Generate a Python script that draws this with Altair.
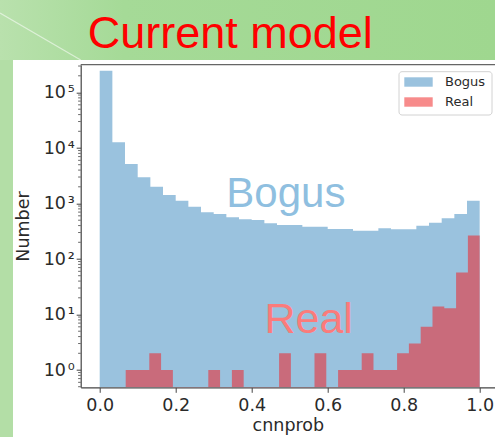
import altair as alt
import numpy as np
import pandas as pd

# ---- histogram data: 30 bins per class, counts per bin ----
bogus_counts = [247000, 12700, 5150, 2970, 2010, 1420, 1120, 875, 694, 650,
                565, 519, 505, 440, 410, 410, 382, 382, 347, 347,
                324, 324, 357, 343, 343, 398, 451, 541, 647, 1123]
real_counts = [1, 1, 2, 1, 0, 0, 0, 1, 0, 1,
               0, 0, 0, 2, 0, 0, 2, 0, 1, 1,
               2, 1, 1, 2, 3, 6, 14, 13, 57, 265]
bogus_range = (0.0, 1.0)
real_range = (0.0684, 1.0)

x_ticks = [0.0, 0.2, 0.4, 0.6, 0.8, 1.0]
y_major = [1, 10, 100, 1000, 10000, 100000]
y_domain = [0.488, 3.17e5]
x_domain = [-0.05, 1.0403]

class_names = ["Bogus", "Real"]
annot_x = [0.49, 0.55]
annot_y = [875, 4.6]

# ---- layout / style ----
W, H = 414.3, 322.6
PAD = {"left": 80.7, "top": 64.7, "right": 0, "bottom": 49.7}
BOGUS_FILL = "#9ac2de"
REAL_FILL = "#c96b7b"
REAL_SWATCH = "#f78b8b"
AXIS_COLOR = "#444444"
TEXT_COLOR = "#2a2a2a"
AX_FONT = "DejaVu Sans"
SANS = "Liberation Sans"
EMPTY = 0.1  # stands in for empty bins; lies below the log axis and is clipped


def step_frame(counts, lo, hi):
    # outline of a histogram: one point per left bin edge plus the final edge
    edges = np.linspace(lo, hi, len(counts) + 1)
    vals = [c if c > 0 else EMPTY for c in counts]
    return pd.DataFrame({"edge": edges, "count": vals + [vals[-1]]})


bogus_df = step_frame(bogus_counts, *bogus_range)
real_df = step_frame(real_counts, *real_range)

y_minor = [m * 10.0 ** k for k in range(-1, 6) for m in range(2, 10)
           if y_domain[0] <= m * 10.0 ** k <= y_domain[1]]

xscale = alt.Scale(domain=x_domain, nice=False, zero=False)
yscale = alt.Scale(type="log", domain=y_domain, nice=False)

# one axis definition per channel, shared by every layer that uses the scale
x_axis = alt.Axis(
    values=x_ticks, format=".1f", title="cnnprob", grid=False,
    labelFont=AX_FONT, labelFontSize=17.5, labelColor=TEXT_COLOR,
    titleFont=AX_FONT, titleFontSize=17.5, titleFontWeight="normal",
    titleColor=TEXT_COLOR, titlePadding=3, labelPadding=4,
    tickSize=5, tickColor=AXIS_COLOR, domainColor=AXIS_COLOR,
    domainWidth=1.2, tickWidth=1, labelFlush=False)
y_axis = alt.Axis(
    values=y_major, title="Number", grid=False,
    labelExpr="'10\u200a' + ['⁰','¹','²','³','⁴','⁵'][round(log(datum.value) / LN10)]",
    labelFont=AX_FONT, labelFontSize=17.5, labelColor=TEXT_COLOR,
    titleFont=AX_FONT, titleFontSize=17.5, titleFontWeight="normal",
    titleColor=TEXT_COLOR, titlePadding=11, labelPadding=2,
    tickSize=4.5, tickColor=AXIS_COLOR, domainColor=AXIS_COLOR,
    domainWidth=1.2, tickWidth=1, labelFlush=False)

one = pd.DataFrame({"k": [0]})
green = alt.Gradient(
    gradient="linear",
    stops=[alt.GradientStop(color="#b9e1ad", offset=0),
           alt.GradientStop(color="#a5da97", offset=0.25),
           alt.GradientStop(color="#9fd78f", offset=1)],
    x1=0, x2=1, y1=0, y2=0)

# green slide background: a band across the top and a strip down the left;
# the rest of the page stays white (the figure panel)
top_band = alt.Chart(one).mark_rect(color=green).encode(
    x=alt.value(-PAD["left"]), x2=alt.value(W),
    y=alt.value(-PAD["top"]), y2=alt.value(60 - PAD["top"]))
left_band = alt.Chart(one).mark_rect(color="#b3dea6").encode(
    x=alt.value(-PAD["left"]), x2=alt.value(13 - PAD["left"]),
    y=alt.value(60 - PAD["top"]), y2=alt.value(H + PAD["bottom"]))

diag = alt.Chart(one).mark_rule(color="white", opacity=0.55, strokeWidth=1.2).encode(
    x=alt.value(-PAD["left"]), y=alt.value(-51.7), x2=alt.value(0), y2=alt.value(-4.7))

title = alt.Chart(one).mark_text(
    text="Current model", font=SANS, fontSize=45, color="#ff0000",
    align="left", baseline="alphabetic"
).encode(x=alt.value(7), y=alt.value(-17))

bogus = alt.Chart(bogus_df).mark_area(
    color=BOGUS_FILL, interpolate="step-after", clip=True
).encode(
    x=alt.X("edge:Q", scale=xscale, axis=x_axis),
    y=alt.Y("count:Q", scale=yscale, axis=y_axis, stack=None),
    y2=alt.value(H),
)

real = alt.Chart(real_df).mark_area(
    color=REAL_FILL, interpolate="step-after", clip=True
).encode(
    x=alt.X("edge:Q", scale=xscale, axis=x_axis),
    y=alt.Y("count:Q", scale=yscale, axis=y_axis, stack=None),
    y2=alt.value(H),
)

minor = alt.Chart(pd.DataFrame({"count": y_minor})).mark_rule(
    color=AXIS_COLOR, strokeWidth=0.8
).encode(y=alt.Y("count:Q", scale=yscale, axis=y_axis),
         x=alt.value(0), x2=alt.value(-2.6))

top_spine = alt.Chart(one).mark_rule(color="#666666", strokeWidth=1.3).encode(
    x=alt.value(0), x2=alt.value(W), y=alt.value(0))

annot = pd.DataFrame({"label": class_names, "edge": annot_x, "count": annot_y})
lbl_bogus = alt.Chart(annot.iloc[[0]]).mark_text(
    font=SANS, fontSize=42, color="#8fbfe0", align="center", baseline="alphabetic"
).encode(x=alt.X("edge:Q", scale=xscale, axis=x_axis),
         y=alt.Y("count:Q", scale=yscale, axis=y_axis), text="label:N")
lbl_real = alt.Chart(annot.iloc[[1]]).mark_text(
    font=SANS, fontSize=43, color="#fb7b7b", align="center", baseline="alphabetic"
).encode(x=alt.X("edge:Q", scale=xscale, axis=x_axis),
         y=alt.Y("count:Q", scale=yscale, axis=y_axis), text="label:N")

# legend box (upper right)
LX0, LX1, LY0, LY1 = 318.3, 411.3, 7.0, 50.3
legend_layers = [
    alt.Chart(one).mark_rect(fill="white", stroke="#d2d2d2", strokeWidth=1,
                             cornerRadius=3).encode(
        x=alt.value(LX0), x2=alt.value(LX1), y=alt.value(LY0), y2=alt.value(LY1))
]
for i, (name, col) in enumerate(zip(class_names, [BOGUS_FILL, REAL_SWATCH])):
    yc = 17.3 + 20 * i
    legend_layers.append(
        alt.Chart(one).mark_rect(color=col).encode(
            x=alt.value(323.6), x2=alt.value(352),
            y=alt.value(yc - 4.7), y2=alt.value(yc + 4.7)))
    legend_layers.append(
        alt.Chart(one).mark_text(text=name, font=AX_FONT, fontSize=13,
                                 color=TEXT_COLOR, align="left",
                                 baseline="middle").encode(
            x=alt.value(364.3), y=alt.value(yc)))

chart = alt.layer(
    top_band, left_band, diag, title, bogus, real, minor, top_spine,
    lbl_bogus, lbl_real, *legend_layers
).properties(
    width=W, height=H,
    autosize=alt.AutoSizeParams(type="none"),
    padding=PAD,
    background="white",
).configure_view(stroke=None)

chart.save("out.html", embed_options={"renderer": "svg", "actions": False})
